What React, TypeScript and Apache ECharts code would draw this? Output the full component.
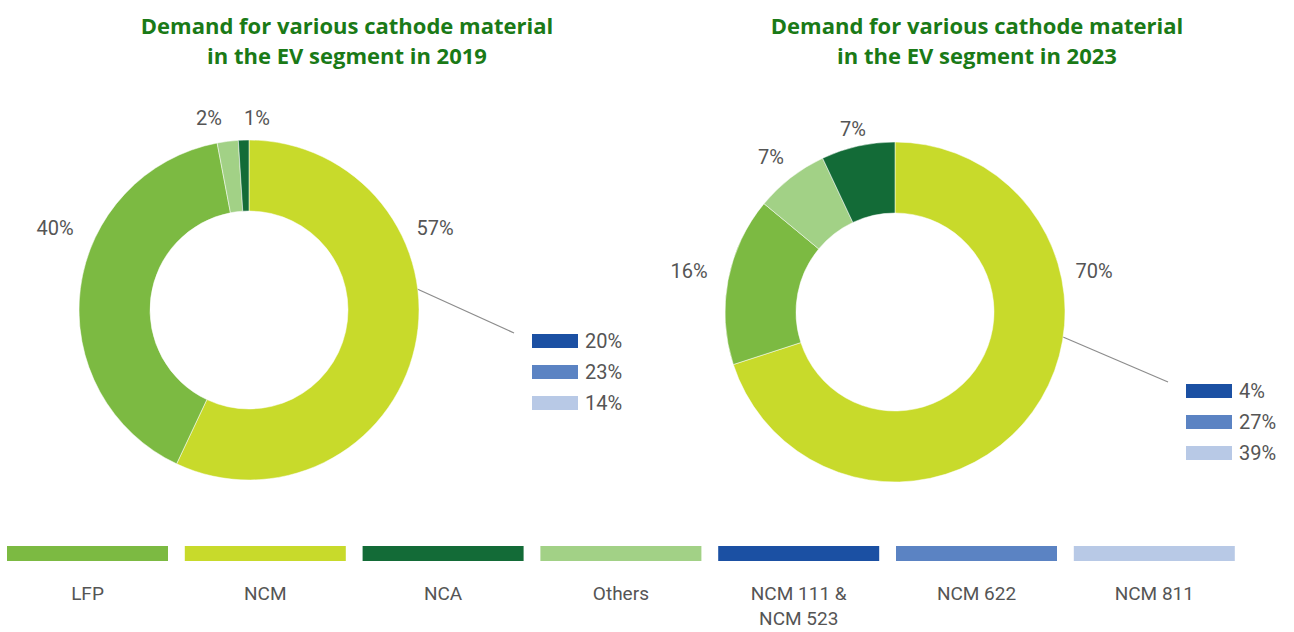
import React, { useEffect, useRef } from "react";
import * as echarts from "echarts";

const categories = ["LFP", "NCM", "NCA", "Others", "NCM 111 &\nNCM 523", "NCM 622", "NCM 811"];
const colors = ["#7cba42", "#c8da2b", "#136b37", "#a2d186", "#1b50a3", "#5b83c3", "#b8c9e6"];

// pie order clockwise from top: NCM, LFP, Others, NCA
const pieNames = ["NCM", "LFP", "Others", "NCA"];
const values2019 = [57, 40, 2, 1];
const values2023 = [70, 16, 7, 7];

const ncmSubNames = ["NCM 111 &\nNCM 523", "NCM 622", "NCM 811"];
const ncmSub2019 = [20, 23, 14];
const ncmSub2023 = [4, 27, 39];

const title2019 = "Demand for various cathode material\nin the EV segment in 2019";
const title2023 = "Demand for various cathode material\nin the EV segment in 2023";

const FONT = "Roboto, 'Noto Sans', sans-serif";
const TITLE_FONT = "'Open Sans', Roboto, sans-serif";
const GRAY = "#555555";

// label positions (pixel) per slice order
const labelPos2019 = [[435, 228], [55, 228], [209, 118], [257, 118]];
const labelPos2023 = [[1094, 271], [689, 271], [771, 157], [853, 129]];

function colorOf(name: string) {
  return colors[categories.indexOf(name)];
}

function makePie(values: number[], center: [number, number], pos: number[][]) {
  return {
    type: "pie",
    center,
    radius: [99, 170],
    startAngle: 90,
    clockwise: true,
    avoidLabelOverlap: false,
    label: {
      show: true,
      position: "outside",
      formatter: "{c}%",
      color: GRAY,
      fontSize: 20,
      fontFamily: FONT,
    },
    labelLine: { show: false },
    labelLayout: (p: any) => ({
      x: pos[p.dataIndex][0],
      y: pos[p.dataIndex][1],
      align: "center",
      verticalAlign: "middle",
    }),
    itemStyle: { borderColor: "#ffffff", borderWidth: 0.5 },
    emphasis: { disabled: true },
    data: pieNames.map((n, i) => ({
      name: n,
      value: values[i],
      itemStyle: { color: colorOf(n) },
    })),
  };
}

function subLegend(values: number[], x: number, y: number, line: number[]) {
  const els: any[] = [
    {
      type: "line",
      shape: { x1: line[0], y1: line[1], x2: line[2], y2: line[3] },
      style: { stroke: "#8c8c8c", lineWidth: 1.2 },
    },
  ];
  values.forEach((v, i) => {
    els.push({
      type: "rect",
      shape: { x, y: y + i * 31, width: 46, height: 14 },
      style: { fill: colorOf(ncmSubNames[i]) },
    });
    els.push({
      type: "text",
      x: x + 53,
      y: y + i * 31 + 7,
      style: {
        text: v + "%",
        fill: GRAY,
        font: `20px ${FONT}`,
        verticalAlign: "middle",
      },
    });
  });
  return els;
}

function bottomLegend() {
  const els: any[] = [];
  categories.forEach((c, i) => {
    const x0 = 7 + i * 177.8;
    els.push({
      type: "rect",
      shape: { x: x0, y: 546, width: 161, height: 15 },
      style: { fill: colors[i] },
    });
    els.push({
      type: "text",
      x: x0 + 80.5,
      y: 581,
      style: {
        text: c,
        fill: GRAY,
        font: `19px ${FONT}`,
        align: "center",
        verticalAlign: "top",
        lineHeight: 25,
      },
    });
  });
  return els;
}

export default function App() {
  const ref = useRef<HTMLDivElement>(null);
  useEffect(() => {
    document.body.style.margin = "0";
    if (!ref.current) return;
    const chart = echarts.init(ref.current, undefined, { renderer: "svg" });
    const titleStyle = { color: "#1a7a17", fontSize: 22, fontWeight: "bold", fontFamily: TITLE_FONT, lineHeight: 30 };
    chart.setOption({
      animation: false,
      backgroundColor: "#ffffff",
      title: [
        { text: title2019, left: 342, top: 5, textAlign: "center", textStyle: titleStyle },
        { text: title2023, left: 972, top: 5, textAlign: "center", textStyle: titleStyle },
      ],
      series: [
        makePie(values2019, [249, 310], labelPos2019),
        makePie(values2023, [895, 312], labelPos2023),
      ],
      graphic: [
        ...subLegend(ncmSub2019, 532, 334, [404, 283, 514, 333]),
        ...subLegend(ncmSub2023, 1186, 384, [1063, 337, 1168, 382]),
        ...bottomLegend(),
      ],
    });
    return () => chart.dispose();
  }, []);
  return <div ref={ref} style={{ width: 1294, height: 632 }} />;
}
